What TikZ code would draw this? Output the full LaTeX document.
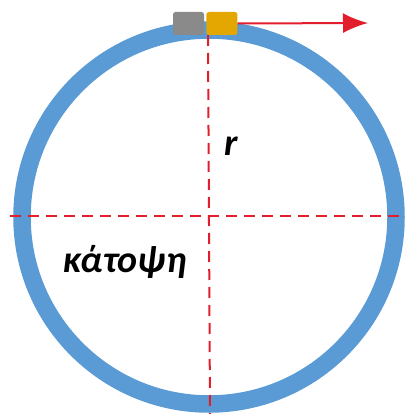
\documentclass[tikz,border=0pt]{standalone}
\usepackage{fontspec}
\setsansfont{Carlito}
\usetikzlibrary{arrows.meta,positioning}

\definecolor{ringblau}{RGB}{91,155,213}
\definecolor{achsrot}{RGB}{226,30,45}
\definecolor{klotzgrau}{RGB}{138,138,138}
\definecolor{klotzgelb}{RGB}{228,166,0}

\begin{document}
\begin{tikzpicture}[x=1pt,y=-1pt,
        font=\sffamily\bfseries\itshape\fontsize{38}{42}\selectfont,
        >={Latex[length=25pt,width=20pt]}, % Pfeilspitze
        achse/.style={draw=achsrot, line width=2pt, dash pattern=on 11pt off 7pt},
        klotz/.style={rounded corners=2.5pt, minimum width=31pt, minimum height=23pt, inner sep=0pt}
        ]
            \useasboundingbox (0,0) rectangle (405,414);

            % Ring
            \coordinate (M) at (209,217);
            \draw [ringblau, line width=17.5pt] (M) circle (187);

            % Achsen
            \coordinate (L) at (10,216);
            \coordinate (R) at (405,216);
            \coordinate (O) at (208,35);
            \coordinate (U) at (210,414);
            \draw [achse] (L) -- (R);
            \draw [achse] (O) -- (U);

            % Wagen
            \node (grau) [klotz, fill=klotzgrau] at (188.5,23.5) {};
            \node (gelb) [klotz, fill=klotzgelb, right=2pt of grau] {};
            \coordinate (spitze) at (368,23);
            \draw [achsrot, line width=2pt, ->] (gelb.east) -- (spitze);

            % Beschriftung
            \node (radius) at (231,146) {r};
            \node (kato) at (125,262) {κάτοψη};

        \end{tikzpicture}
\end{document}
